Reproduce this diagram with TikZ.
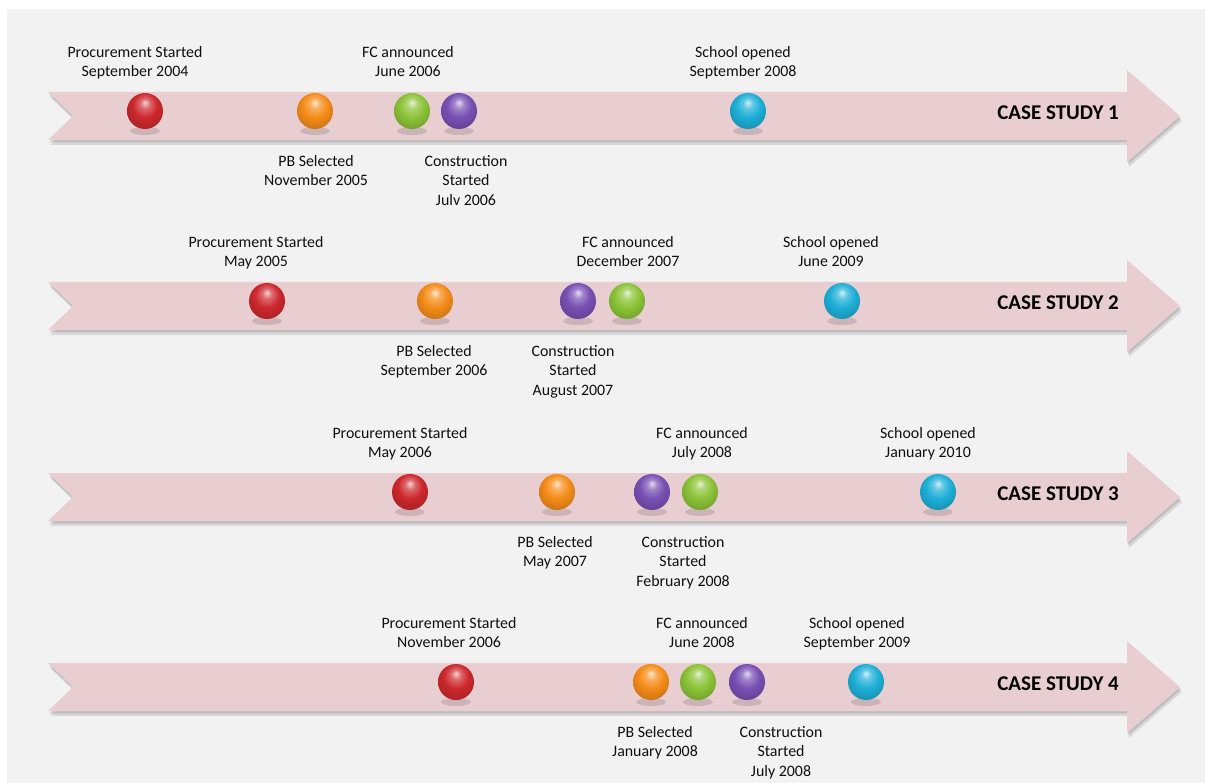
\documentclass[tikz,border=0pt]{standalone}
\usepackage{fontspec}
\setmainfont{Carlito}
\definecolor{pagebg}{RGB}{242,242,242}
\definecolor{bandpink}{RGB}{232,206,209}
\definecolor{labeltext}{RGB}{15,15,15}
\definecolor{ballred}{RGB}{205,40,45}
\definecolor{ballorange}{RGB}{245,140,25}
\definecolor{ballgreen}{RGB}{140,195,55}
\definecolor{ballpurple}{RGB}{120,80,180}
\definecolor{ballcyan}{RGB}{30,175,215}
% glossy ball shading: highlight near the top, darker towards the bottom rim
\newcommand\defglossball[2]{%
  \pgfdeclareradialshading{#1}{\pgfpoint{0bp}{12bp}}{%
    color(0bp)=(#2!20!white); color(7bp)=(#2!70!white); color(17bp)=(#2);
    color(29bp)=(#2!85!black); color(38bp)=(#2!68!black); color(50bp)=(#2!68!black)}}
\defglossball{glossred}{ballred}
\defglossball{glossorange}{ballorange}
\defglossball{glossgreen}{ballgreen}
\defglossball{glosspurple}{ballpurple}
\defglossball{glosscyan}{ballcyan}
\begin{document}
\begin{tikzpicture}[x=1pt,y=-1pt,
  lbl/.style={font=\fontsize{15.9}{19.5}\selectfont, align=center, inner sep=0pt, text=labeltext},
  toplbl/.style={lbl, anchor=south, text depth=4pt},
  botlbl/.style={lbl, anchor=north},
  casetitle/.style={font=\fontsize{21}{24}\selectfont\bfseries, anchor=east, inner sep=0pt, text=black},
  ballbase/.style={circle, minimum size=36pt, inner sep=0pt},
  redball/.style={ballbase, shading=glossred},
  orangeball/.style={ballbase, shading=glossorange},
  greenball/.style={ballbase, shading=glossgreen},
  purpleball/.style={ballbase, shading=glosspurple},
  cyanball/.style={ballbase, shading=glosscyan},
  bandshape/.pic={
    \fill[black, opacity=0.10] (2,-19) -- (1081,-19) -- (1081,-41) -- (1134,5) -- (1081,51) -- (1081,29) -- (2,29) -- (27,5) -- cycle;
    \fill[black, opacity=0.12] (1,-21.5) -- (1080,-21.5) -- (1080,-43.5) -- (1133,2.5) -- (1080,48.5) -- (1080,26.5) -- (1,26.5) -- (26,2.5) -- cycle;
    \fill[bandpink] (0,-24) -- (1079,-24) -- (1079,-46) -- (1132,0) -- (1079,46) -- (1079,24) -- (0,24) -- (25,0) -- cycle;
  },
  ballshadow/.pic={\fill[black, opacity=0.12] (0,0) ellipse (15 and 4);}
]
% page
\useasboundingbox (0,0) rectangle (1205,783);
\fill[pagebg] (7,9) rectangle (1205,783);

% ---------------- case study 1 ----------------
\pic at (48,116) {bandshape};
\foreach \bx in {145,315,412,459,748} \pic at (\bx,131) {ballshadow};
\node[redball] (r1) at (145,111) {};
\node[orangeball] (o1) at (315,111) {};
\node[greenball] (g1) at (412,111) {};
\node[purpleball] (p1) at (459,111) {};
\node[cyanball] (c1) at (748,111) {};
\node[toplbl] (r1t) at (135,81) {Procurement Started\\September 2004};
\node[toplbl] (g1t) at (408,81) {FC announced\\June 2006};
\node[toplbl] (c1t) at (743,81) {School opened\\September 2008};
\node[botlbl] (o1t) at (316,155) {PB Selected\\November 2005};
\node[botlbl] (p1t) at (466,155) {Construction\\Started\\Julv 2006};
\node[casetitle] (cs1) at (1119,113) {CASE STUDY 1};

% ---------------- case study 2 ----------------
\pic at (48,306) {bandshape};
\foreach \bx in {267,435,578,627,842} \pic at (\bx,321) {ballshadow};
\node[redball] (r2) at (267,301) {};
\node[orangeball] (o2) at (435,301) {};
\node[purpleball] (p2) at (578,301) {};
\node[greenball] (g2) at (627,301) {};
\node[cyanball] (c2) at (842,301) {};
\node[toplbl] (r2t) at (256,271) {Procurement Started\\May 2005};
\node[toplbl] (g2t) at (628,271) {FC announced\\December 2007};
\node[toplbl] (c2t) at (831,271) {School opened\\June 2009};
\node[botlbl] (o2t) at (434,345) {PB Selected\\September 2006};
\node[botlbl] (p2t) at (573,345) {Construction\\Started\\August 2007};
\node[casetitle] (cs2) at (1119,303) {CASE STUDY 2};

% ---------------- case study 3 ----------------
\pic at (48,497) {bandshape};
\foreach \bx in {410,557,652,700,938} \pic at (\bx,512) {ballshadow};
\node[redball] (r3) at (410,492) {};
\node[orangeball] (o3) at (557,492) {};
\node[purpleball] (p3) at (652,492) {};
\node[greenball] (g3) at (700,492) {};
\node[cyanball] (c3) at (938,492) {};
\node[toplbl] (r3t) at (400,462) {Procurement Started\\May 2006};
\node[toplbl] (g3t) at (702,462) {FC announced\\July 2008};
\node[toplbl] (c3t) at (928,462) {School opened\\January 2010};
\node[botlbl] (o3t) at (555,536) {PB Selected\\May 2007};
\node[botlbl] (p3t) at (683,536) {Construction\\Started\\February 2008};
\node[casetitle] (cs3) at (1119,494) {CASE STUDY 3};

% ---------------- case study 4 ----------------
\pic at (48,687) {bandshape};
\foreach \bx in {456,651,698,747,866} \pic at (\bx,702) {ballshadow};
\node[redball] (r4) at (456,682) {};
\node[orangeball] (o4) at (651,682) {};
\node[greenball] (g4) at (698,682) {};
\node[purpleball] (p4) at (747,682) {};
\node[cyanball] (c4) at (866,682) {};
\node[toplbl] (r4t) at (449,652) {Procurement Started\\November 2006};
\node[toplbl] (g4t) at (702,652) {FC announced\\June 2008};
\node[toplbl] (c4t) at (857,652) {School opened\\September 2009};
\node[botlbl] (o4t) at (655,726) {PB Selected\\January 2008};
\node[botlbl] (p4t) at (781,726) {Construction\\Started\\July 2008};
\node[casetitle] (cs4) at (1119,684) {CASE STUDY 4};
\end{tikzpicture}
\end{document}
